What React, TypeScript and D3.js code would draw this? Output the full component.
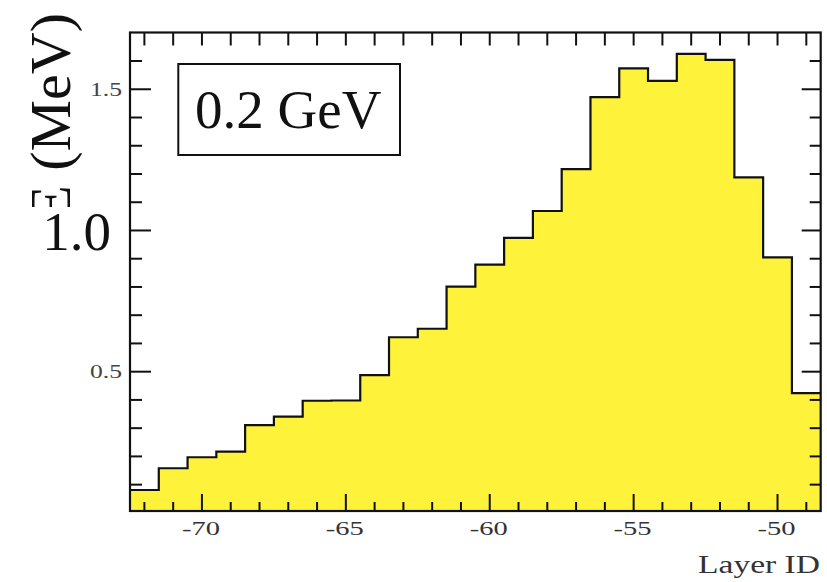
import React from 'react';
import * as d3 from 'd3';

// energy deposit per layer, 0.2 GeV run
const layers = [-72, -71, -70, -69, -68, -67, -66, -65, -64, -63, -62, -61,
  -60, -59, -58, -57, -56, -55, -54, -53, -52, -51, -50, -49];
const energy = [0.081, 0.158, 0.197, 0.217, 0.311, 0.341, 0.397, 0.398, 0.488, 0.622, 0.652, 0.801,
  0.879, 0.974, 1.069, 1.217, 1.472, 1.574, 1.530, 1.625, 1.604, 1.188, 0.905, 0.424];
const xTickLabels = [-70, -65, -60, -55, -50];
const yTickLabels = [0.5, 1.5];

const W = 827;
const H = 582;
const margin = { top: 32.5, right: 6.3, bottom: 71, left: 130 };

export default function App() {
  const x = d3.scaleLinear().domain([-72.5, -48.5]).range([margin.left, W - margin.right]);
  const y = d3.scaleLinear().domain([0.0067, 1.701]).range([H - margin.bottom, margin.top]);

  const pts: [number, number][] = layers.map((l, i) => [l - 0.5, energy[i]]);
  pts.push([layers[layers.length - 1] + 0.5, energy[energy.length - 1]]);

  const area = d3.area<[number, number]>()
    .x(d => x(d[0]))
    .y0(y(0.0067))
    .y1(d => y(d[1]))
    .curve(d3.curveStepAfter);
  const line = d3.line<[number, number]>()
    .x(d => x(d[0]))
    .y(d => y(d[1]))
    .curve(d3.curveStepAfter);

  const x0 = margin.left;
  const x1 = W - margin.right;
  const y0 = H - margin.bottom;
  const y1 = margin.top;

  const xTicks = d3.range(-72, -48, 1);
  const yTicks = d3.range(1, 17).map(v => v / 10);

  return (
    <svg width={W} height={H}
      style={{ position: 'absolute', left: 0, top: 0, background: '#fff', fontFamily: '"Liberation Serif", "Times New Roman", serif' }}>
      <defs>
        <clipPath id="frame">
          <rect x={x0} y={y1} width={x1 - x0} height={y0 - y1} />
        </clipPath>
      </defs>
      <g clipPath="url(#frame)">
        <path d={area(pts) || ''} fill="#fff23b" />
        <path d={line(pts) || ''} fill="none" stroke="#111" strokeWidth={2.2} />
      </g>

      {/* axis ticks, drawn inward */}
      {xTicks.map(t => {
        const major = t % 5 === 0;
        return (
          <g key={'xt' + t} stroke="#111" strokeWidth={2}>
            <line x1={x(t)} x2={x(t)} y1={y0} y2={y0 - (major ? 17 : 9)} />
            <line x1={x(t)} x2={x(t)} y1={y1} y2={y1 + 13} />
          </g>
        );
      })}
      {yTicks.map(t => {
        const major = Math.round(t * 10) % 5 === 0;
        return (
          <g key={'yt' + t} stroke="#111" strokeWidth={2}>
            <line x1={x0} x2={x0 + (major ? 21 : 12)} y1={y(t)} y2={y(t)} />
            <line x1={x1} x2={x1 - (major ? 19 : 11)} y1={y(t)} y2={y(t)} />
          </g>
        );
      })}
      <rect x={x0} y={y1} width={x1 - x0} height={y0 - y1} fill="none" stroke="#111" strokeWidth={2.2} />

      {xTickLabels.map(t => (
        <text key={'xl' + t} x={x(t) - 1} y={535} textAnchor="middle" fontSize={19}
          fill="#333" textLength={38} lengthAdjust="spacingAndGlyphs">{t}</text>
      ))}
      {yTickLabels.map(t => (
        <text key={'yl' + t} x={122} y={y(t) + 6.5} textAnchor="end" fontSize={19}
          fill="#444" textLength={32} lengthAdjust="spacingAndGlyphs">{t.toFixed(1)}</text>
      ))}

      <text x={820} y={573} textAnchor="end" fontSize={26} fill="#333"
        textLength={122} lengthAdjust="spacingAndGlyphs">Layer ID</text>

      {/* y title, partly hidden behind the large 1.0 label */}
      <text transform="translate(70,13) rotate(-90)" textAnchor="end" fontSize={58} fill="#111">E (MeV)</text>
      <rect x={15} y={207} width={110} height={50} fill="#fff" />
      <text x={111} y={250} textAnchor="end" fontSize={55} fill="#111">1.0</text>

      <rect x={178.3} y={64} width={221.7} height={91} fill="#fff" stroke="#111" strokeWidth={2} />
      <text x={195} y={128.3} fontSize={55} fill="#111">0.2 GeV</text>
    </svg>
  );
}
